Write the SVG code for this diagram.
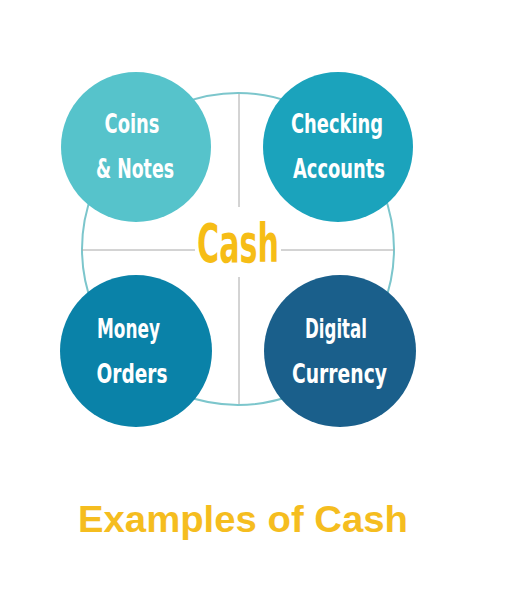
<svg xmlns="http://www.w3.org/2000/svg" width="526" height="600" viewBox="0 0 526 600">
<style>
.lbl{font-family:"DejaVu Sans Condensed","DejaVu Sans",sans-serif;font-weight:bold;font-size:27px;fill:#ffffff;text-anchor:middle}
.axis{stroke:#a8a8a8;stroke-width:1;fill:none}
</style>
<rect width="526" height="600" fill="#ffffff"/>
<g id="hub">
<circle cx="238" cy="249" r="156" fill="none" stroke="#7cc6cc" stroke-width="2"/>
</g>
<g id="connectors">
<line class="axis" x1="239" y1="94" x2="239" y2="207"/>
<line class="axis" x1="239" y1="277" x2="239" y2="404"/>
<line class="axis" x1="82" y1="250" x2="195" y2="250"/>
<line class="axis" x1="281" y1="250" x2="394" y2="250"/>
</g>
<g id="cash">
<text x="238" y="262" font-family="DejaVu Sans Condensed,DejaVu Sans,sans-serif" font-weight="bold" font-size="53" fill="#f6bd16" text-anchor="middle" textLength="82" lengthAdjust="spacingAndGlyphs">Cash</text>
</g>
<g id="coins">
<circle cx="136" cy="147" r="75" fill="#56c3cb"/>
<text class="lbl" x="132" y="133" textLength="55" lengthAdjust="spacingAndGlyphs">Coins</text>
<text class="lbl" x="135" y="178" textLength="78" lengthAdjust="spacingAndGlyphs">&amp; Notes</text>
</g>
<g id="checking">
<circle cx="338" cy="147" r="75" fill="#1ba3bc"/>
<text class="lbl" x="337" y="133" textLength="92" lengthAdjust="spacingAndGlyphs">Checking</text>
<text class="lbl" x="339" y="178" textLength="92" lengthAdjust="spacingAndGlyphs">Accounts</text>
</g>
<g id="money">
<circle cx="136" cy="351" r="76" fill="#0a82a8"/>
<text class="lbl" x="128.5" y="338" textLength="63" lengthAdjust="spacingAndGlyphs">Money</text>
<text class="lbl" x="132" y="383" textLength="71" lengthAdjust="spacingAndGlyphs">Orders</text>
</g>
<g id="digital">
<circle cx="340" cy="351" r="76" fill="#1a5f8b"/>
<text class="lbl" x="336" y="338" textLength="62" lengthAdjust="spacingAndGlyphs">Digital</text>
<text class="lbl" x="339.5" y="383" textLength="95" lengthAdjust="spacingAndGlyphs">Currency</text>
</g>
<g id="title">
<text x="243" y="532" font-family="Liberation Sans,Arial,sans-serif" font-weight="bold" font-size="37" fill="#f5bd1f" text-anchor="middle" textLength="330" lengthAdjust="spacingAndGlyphs">Examples of Cash</text>
</g>
</svg>
